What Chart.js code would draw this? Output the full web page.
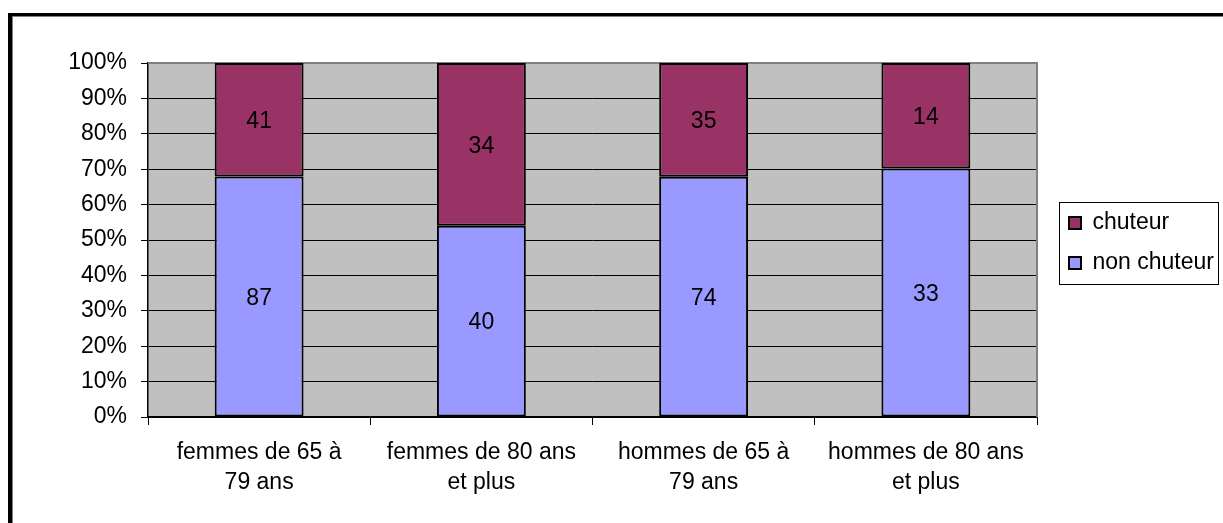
<!DOCTYPE html>
<html>
<head>
<meta charset="utf-8">
<script src="https://cdn.jsdelivr.net/npm/chart.js@4/dist/chart.umd.min.js"></script>
<style>
  body { margin: 0; background: #fff; overflow: hidden; }
  #frame {
    position: absolute; left: 8px; top: 13px; width: 1300px; height: 600px;
    border-left: 4px solid #000; border-top: 3px solid #000;
    box-shadow: inset 1px 1px 0 #808080;
  }
  #wrap { position: absolute; left: 0; top: 0; width: 1223px; height: 523px; }
</style>
</head>
<body>
<div id="frame"></div>
<div id="wrap"><canvas id="chuteChart"></canvas></div>
<script>
var categories = [
    ['femmes de 65 à', '79 ans'],
    ['femmes de 80 ans', 'et plus'],
    ['hommes de 65 à', '79 ans'],
    ['hommes de 80 ans', 'et plus']
];
var nonChuteur = [87, 40, 74, 33];
var chuteur = [41, 34, 35, 14];
var yTicks = [0, 10, 20, 30, 40, 50, 60, 70, 80, 90, 100];

// 100% stacking: share of each group
function pct(part, other) {
    return part.map(function (v, i) { return v / (v + other[i]) * 100; });
}

Chart.defaults.font.family = "'Liberation Sans', Arial, sans-serif";
Chart.defaults.font.size = 23;
Chart.defaults.color = '#000';

var plotBg = {
    id: 'plotBg',
    beforeDraw: function (chart) {
        var a = chart.chartArea, ctx = chart.ctx;
        ctx.save();
        ctx.fillStyle = '#C0C0C0';
        ctx.fillRect(a.left, a.top, a.right - a.left, a.bottom - a.top);
        ctx.restore();
    },
    beforeDatasetsDraw: function (chart) {
        var a = chart.chartArea, ctx = chart.ctx;
        ctx.save();
        ctx.strokeStyle = '#808080';
        ctx.lineWidth = 2;
        ctx.beginPath();
        ctx.moveTo(a.left, a.top);
        ctx.lineTo(a.right, a.top);
        ctx.lineTo(a.right, a.bottom);
        ctx.stroke();
        ctx.restore();
    }
};

var countLabels = {
    id: 'countLabels',
    afterDatasetsDraw: function (chart) {
        var ctx = chart.ctx;
        var counts = [nonChuteur, chuteur];
        ctx.save();
        ctx.font = "23px 'Liberation Sans', Arial, sans-serif";
        ctx.fillStyle = '#000';
        ctx.textAlign = 'center';
        ctx.textBaseline = 'middle';
        chart.data.datasets.forEach(function (ds, d) {
            chart.getDatasetMeta(d).data.forEach(function (bar, i) {
                ctx.fillText(String(counts[d][i]), bar.x, (bar.y + bar.base) / 2 + 2);
            });
        });
        ctx.restore();
    }
};

var legendBox = {
    id: 'legendBox',
    beforeLayout: function (chart) {
        var lg = chart.legend;
        if (lg && !lg._patched) {
            var fit0 = lg.fit;
            lg.fit = function () { fit0.call(this); this.width = 186; };
            lg._patched = true;
        }
    },
    afterLayout: function (chart) {
        var lg = chart.legend;
        lg.left += 15;
        lg.top -= 50;
        lg.bottom -= 50;
    },
    afterDraw: function (chart) {
        var hb = chart.legend.legendHitBoxes;
        if (!hb || !hb.length) return;
        var l = Infinity, t = Infinity, r = -Infinity, b = -Infinity;
        hb.forEach(function (h) {
            l = Math.min(l, h.left); t = Math.min(t, h.top);
            r = Math.max(r, h.left + h.width); b = Math.max(b, h.top + h.height);
        });
        var ctx = chart.ctx;
        ctx.save();
        ctx.strokeStyle = '#000';
        ctx.lineWidth = 1;
        ctx.strokeRect(Math.round(l - 10) + 0.5, Math.round(t - 10) + 0.5, Math.round(r - l + 14), Math.round(b - t + 19));
        ctx.restore();
    }
};

new Chart(document.getElementById('chuteChart'), {
    type: 'bar',
    data: {
        labels: categories,
        datasets: [{
            label: 'non chuteur',
            data: pct(nonChuteur, chuteur),
            backgroundColor: '#9999FF',
            borderColor: '#000',
            borderWidth: 2,
            borderSkipped: false
        }, {
            label: 'chuteur',
            data: pct(chuteur, nonChuteur),
            backgroundColor: '#993366',
            borderColor: '#000',
            borderWidth: 2,
            borderSkipped: false
        }]
    },
    options: {
        responsive: true,
        maintainAspectRatio: false,
        animation: false,
        layout: { padding: { left: 0, top: 63, right: 0, bottom: 0 } },
        datasets: { bar: { categoryPercentage: 1, barPercentage: 0.4 } },
        scales: {
            x: {
                stacked: true,
                grid: { drawOnChartArea: false, drawTicks: true, tickLength: 8, color: '#000', offset: true },
                border: { color: '#000', width: 1.5 },
                ticks: { padding: 12, maxRotation: 0, autoSkip: false, font: { size: 23, lineHeight: 1.32 } },
                afterFit: function (s) { s.height = 106; }
            },
            y: {
                stacked: true,
                min: 0,
                max: 100,
                afterBuildTicks: function (s) { s.ticks = yTicks.map(function (v) { return { value: v }; }); },
                grid: {
                    color: function (c) { return c.tick && c.tick.value === 100 ? '#808080' : '#000'; },
                    tickColor: '#000',
                    tickLength: 7,
                    lineWidth: 1
                },
                border: { color: '#000', width: 1.5 },
                ticks: { padding: 14, callback: function (v) { return v + '%'; } },
                afterFit: function (s) { s.width = 148; }
            }
        },
        plugins: {
            tooltip: { enabled: false },
            legend: {
                position: 'right',
                reverse: true,
                labels: { boxWidth: 12, boxHeight: 12, padding: 17, color: '#000' }
            }
        }
    },
    plugins: [plotBg, countLabels, legendBox]
});
</script>
</body>
</html>
